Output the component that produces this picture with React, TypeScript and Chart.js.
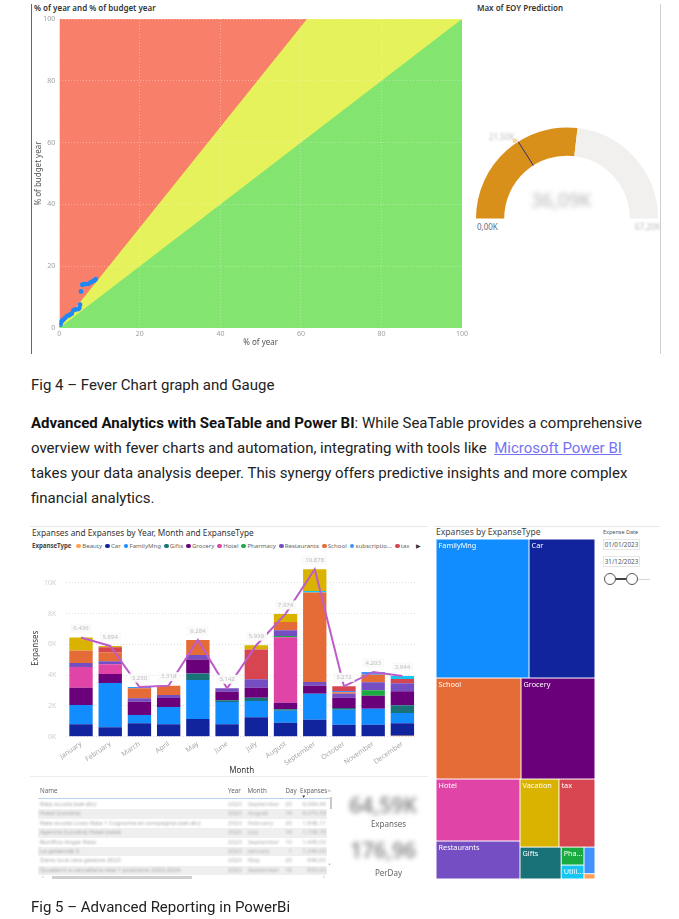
import React, { useEffect, useRef } from "react";
import { Chart, registerables } from "chart.js";

Chart.register(...registerables);

const PBI_FONT = "'Noto Sans', 'Open Sans', sans-serif";
const PAGE_FONT = "Roboto, 'Noto Sans', sans-serif";
Chart.defaults.font.family = PBI_FONT;

// ---------------- Fig 4 : fever chart ----------------
const yearPct = [0.26, 0.42, 0.67, 1.0, 1.42, 1.83, 2.24, 2.66, 3.07, 3.49, 3.9, 4.32, 4.73, 4.98, 5.14, 5.39, 5.72, 6.14, 6.64, 7.21, 7.8, 8.29, 8.7, 9.04];
const budgetPct = [1.07, 1.82, 2.36, 2.68, 3.22, 3.77, 3.98, 4.3, 4.62, 5.7, 5.92, 6.13, 6.13, 6.46, 7.53, 11.85, 14.0, 14.2, 14.2, 14.3, 14.75, 15.1, 15.4, 15.8];
const greenZoneX = [0, 100];
const greenZoneY = [0, 100];
const yellowZoneX = [0, 61.5, 100];
const yellowZoneY = [0, 100, 100];
const redZoneX = [0, 100];
const redZoneY = [100, 100];

// ---------------- gauge (K) ----------------
const gaugeMin = 0;
const gaugeValue = 36.09;
const gaugeMax = 67.2;
const gaugeTarget = 21.5;

// ---------------- Fig 5 : expenses ----------------
const months = ["January", "February", "March", "April", "May", "June", "July", "August", "September", "October", "November", "December"];
const beauty = [0, 0, 0, 0, 0, 0, 0, 0, 0, 0, 0, 65];
const car = [802, 607, 867, 802, 1149, 802, 1257, 910, 1105, 780, 780, 802];
const familyMng = [1257, 2882, 542, 1127, 2535, 1452, 1062, 780, 1690, 975, 1040, 672];
const gifts = [0, 0, 0, 0, 412, 108, 217, 87, 0, 108, 0, 498];
const grocery = [1127, 585, 867, 585, 910, 563, 650, 433, 520, 672, 845, 910];
const hotel = [1343, 628, 0, 0, 0, 0, 0, 4247, 0, 0, 0, 0];
const pharmacy = [0, 0, 0, 0, 0, 0, 0, 87, 0, 0, 347, 0];
const restaurants = [260, 195, 217, 195, 303, 217, 542, 368, 238, 260, 520, 520];
const school = [802, 585, 650, 607, 975, 0, 0, 542, 5808, 87, 498, 0];
const subscriptions = [0, 0, 87, 0, 0, 0, 0, 0, 0, 87, 173, 0];
const tax = [0, 325, 0, 0, 0, 0, 1929, 0, 0, 303, 0, 282];
const utilities = [0, 0, 0, 0, 0, 0, 0, 0, 108, 0, 0, 195];
const vacation = [845, 87, 0, 0, 0, 0, 282, 520, 1409, 0, 0, 0];

const expenseTypes = ["Beauty", "Car", "FamilyMng", "Gifts", "Grocery", "Hotel", "Pharmacy", "Restaurants", "School", "subscriptions", "tax", "Utilities", "Vacation"];
const expenseSeries = [beauty, car, familyMng, gifts, grocery, hotel, pharmacy, restaurants, school, subscriptions, tax, utilities, vacation];
const legendLabels = ["Beauty", "Car", "FamilyMng", "Gifts", "Grocery", "Hotel", "Pharmacy", "Restaurants", "School", "subscriptio...", "tax"];
const yAxisMaxK = 11.5;
const yTicksK = [0, 2, 4, 6, 8, 10];

const treeTypes = ["FamilyMng", "Car", "School", "Grocery", "Hotel", "Restaurants", "Vacation", "tax", "Gifts", "Pharmacy", "Utilities", "subscriptions", "Beauty"];
const treeValues = [15450, 10960, 10260, 8930, 6220, 3810, 3170, 2930, 1570, 490, 380, 350, 70];

const tableYears = ["2023", "2023", "2023", "2023", "2023", "2023", "2023", "2023"];
const tableMonths = ["September", "August", "February", "July", "September", "January", "May", "September"];
const tableDays = ["20", "14", "20", "14", "10", "1", "20", "16"];
const tableExpanses = ["4.094,44", "4.073,59", "1.848,11", "1.738,75", "1.445,03", "1.240,00", "946,05", "933,00"];
const tableNames = ["Rata scuola (set-dic)", "Hotel (Londra)", "Rata scuola Liceo Rata 1 Cognome et compagnia (set-dic)", "Agenzia (Londra) Hotel (rata)", "Bonifico Anger Rata", "La gelaende 2", "Zaino luce cera gestore 2023", "Quaderni e cancelleria rete 1 posizione 2023-2024"];
const cardTotal = "64,59K";
const cardPerDay = "176,96";

const typeColors: Record<string, string> = {
  Beauty: "#FFA058",
  Car: "#12239E",
  FamilyMng: "#118DFF",
  Gifts: "#197278",
  Grocery: "#6B007B",
  Hotel: "#E044A7",
  Pharmacy: "#1AAB40",
  Restaurants: "#744EC2",
  School: "#E66C37",
  subscriptions: "#4092FF",
  tax: "#D64550",
  Utilities: "#15C6F4",
  Vacation: "#D9B300",
};

const monthTotals = months.map((_, i) => expenseSeries.reduce((s, arr) => s + arr[i], 0));

// d3-style squarified layout (golden ratio)
function squarify(values: number[], X0: number, Y0: number, X1: number, Y1: number) {
  const ratio = (1 + Math.sqrt(5)) / 2;
  const rects: { x0: number; y0: number; x1: number; y1: number }[] = [];
  let x0 = X0, y0 = Y0;
  const x1 = X1, y1 = Y1;
  let value = values.reduce((a, b) => a + b, 0);
  const n = values.length;
  let i0 = 0, i1 = 0;
  while (i0 < n) {
    const dx = x1 - x0, dy = y1 - y0;
    let sumValue = values[i1++];
    let minValue = sumValue, maxValue = sumValue;
    const alpha = Math.max(dy / dx, dx / dy) / (value * ratio);
    let beta = sumValue * sumValue * alpha;
    let minRatio = Math.max(maxValue / beta, beta / minValue);
    for (; i1 < n; ++i1) {
      const nv = values[i1];
      sumValue += nv;
      if (nv < minValue) minValue = nv;
      if (nv > maxValue) maxValue = nv;
      beta = sumValue * sumValue * alpha;
      const newRatio = Math.max(maxValue / beta, beta / minValue);
      if (newRatio > minRatio) {
        sumValue -= nv;
        break;
      }
      minRatio = newRatio;
    }
    if (dx < dy) {
      const yEnd = value ? y0 + (dy * sumValue) / value : y1;
      let x = x0;
      for (let k = i0; k < i1; k++) {
        const w = (dx * values[k]) / sumValue;
        rects[k] = { x0: x, y0, x1: x + w, y1: yEnd };
        x += w;
      }
      y0 = yEnd;
    } else {
      const xEnd = value ? x0 + (dx * sumValue) / value : x1;
      let y = y0;
      for (let k = i0; k < i1; k++) {
        const h = (dy * values[k]) / sumValue;
        rects[k] = { x0, y0: y, x1: xEnd, y1: y + h };
        y += h;
      }
      x0 = xEnd;
    }
    value -= sumValue;
    i0 = i1;
  }
  return rects;
}

function ChartCanvas(props: { left: number; top: number; width: number; height: number; config: () => any }) {
  const ref = useRef<HTMLCanvasElement>(null);
  useEffect(() => {
    const chart = new Chart(ref.current as HTMLCanvasElement, props.config());
    return () => chart.destroy();
  }, []);
  return (
    <canvas
      ref={ref}
      width={props.width}
      height={props.height}
      style={{ position: "absolute", left: props.left, top: props.top, width: props.width, height: props.height }}
    />
  );
}

// ---------- configs ----------
const feverConfig = () => ({
  type: "line",
  data: {
    datasets: [
      {
        label: "Progress",
        data: yearPct.map((x, i) => ({ x, y: budgetPct[i] })),
        showLine: false,
        pointRadius: 2.4,
        pointBackgroundColor: "#1E88F5",
        pointBorderWidth: 0,
        order: 0,
      },
      {
        label: "green",
        data: greenZoneX.map((x, i) => ({ x, y: greenZoneY[i] })),
        fill: "origin",
        backgroundColor: "#83E46F",
        borderWidth: 0,
        pointRadius: 0,
        order: 1,
      },
      {
        label: "yellow",
        data: yellowZoneX.map((x, i) => ({ x, y: yellowZoneY[i] })),
        fill: "origin",
        backgroundColor: "#E5F25B",
        borderWidth: 0,
        pointRadius: 0,
        order: 2,
      },
      {
        label: "red",
        data: redZoneX.map((x, i) => ({ x, y: redZoneY[i] })),
        fill: "origin",
        backgroundColor: "#F8806A",
        borderWidth: 0,
        pointRadius: 0,
        order: 3,
      },
    ],
  },
  options: {
    animation: false,
    responsive: false,
    layout: { padding: { top: 19, right: 10, left: 0, bottom: 0 } },
    plugins: { legend: { display: false }, tooltip: { enabled: false } },
    scales: {
      x: {
        type: "linear",
        min: 0,
        max: 100,
        ticks: { stepSize: 20, color: "#a0a0a0", font: { size: 7 }, padding: 2 },
        grid: { color: "rgba(255,255,255,0.35)", z: 1, drawTicks: false },
        border: { display: false, dash: [1, 2] },
        title: { display: true, text: "% of year", color: "#555", font: { size: 8 }, padding: { top: 0, bottom: 7 } },
        afterFit: (s: any) => {
          s.height = 27;
        },
      },
      y: {
        type: "linear",
        min: 0,
        max: 100,
        ticks: { stepSize: 20, color: "#a0a0a0", font: { size: 7 }, padding: 4 },
        grid: { color: "rgba(255,255,255,0.35)", z: 1, drawTicks: false },
        border: { display: false, dash: [1, 2] },
        title: { display: true, text: "% of budget year", color: "#555", font: { size: 8 }, padding: { top: 1.5, bottom: 0 } },
        afterFit: (s: any) => {
          s.width = 27.3;
        },
      },
    },
  },
});

const gaugeTargetPlugin = {
  id: "gaugeTarget",
  afterDatasetsDraw(chart: any) {
    const arc = chart.getDatasetMeta(0).data[0];
    if (!arc) return;
    const { x, y, innerRadius, outerRadius } = arc.getProps(["x", "y", "innerRadius", "outerRadius"], true);
    const frac = (gaugeTarget - gaugeMin) / (gaugeMax - gaugeMin);
    const ang = Math.PI + Math.PI * frac;
    const ctx = chart.ctx;
    ctx.save();
    ctx.strokeStyle = "#2B2F6E";
    ctx.lineWidth = 1;
    ctx.beginPath();
    ctx.moveTo(x + Math.cos(ang) * innerRadius, y + Math.sin(ang) * innerRadius);
    ctx.lineTo(x + Math.cos(ang) * outerRadius, y + Math.sin(ang) * outerRadius);
    ctx.stroke();
    ctx.fillStyle = "#F3D7A6";
    const mx = x + Math.cos(ang) * (outerRadius + 1);
    const my = y + Math.sin(ang) * (outerRadius + 1);
    ctx.fillRect(mx - 5, my - 2, 5, 4);
    ctx.restore();
  },
};

const gaugeConfig = () => ({
  type: "doughnut",
  data: {
    labels: ["Max of EOY Prediction", "Remaining"],
    datasets: [
      {
        data: [gaugeValue - gaugeMin, gaugeMax - gaugeValue],
        backgroundColor: ["#D9901A", "#F1F0EE"],
        borderWidth: 0,
      },
    ],
  },
  options: {
    animation: false,
    responsive: false,
    rotation: -90,
    circumference: 180,
    cutout: "69%",
    layout: { padding: 0 },
    plugins: { legend: { display: false }, tooltip: { enabled: false } },
  },
  plugins: [gaugeTargetPlugin],
});

const totalsLabelPlugin = {
  id: "totalsLabels",
  afterDatasetsDraw(chart: any) {
    const meta = chart.getDatasetMeta(0);
    const ctx = chart.ctx;
    const fmt = new Intl.NumberFormat("de-DE");
    ctx.save();
    ctx.font = `6px ${PBI_FONT}`;
    ctx.textAlign = "center";
    ctx.textBaseline = "middle";
    meta.data.forEach((pt: any, i: number) => {
      const text = fmt.format(Math.round(monthTotals[i]));
      const w = ctx.measureText(text).width + 6;
      const cx = pt.x;
      const cy = pt.y - 9;
      ctx.fillStyle = "rgba(250,250,250,0.95)";
      ctx.fillRect(cx - w / 2, cy - 4.5, w, 9);
      ctx.fillStyle = "#bdbdbd";
      ctx.fillText(text, cx, cy);
    });
    ctx.restore();
  },
};

const barConfig = () => ({
  type: "bar",
  data: {
    labels: months,
    datasets: [
      {
        type: "line",
        label: "Expanses",
        data: monthTotals,
        borderColor: "#BE5DC9",
        borderWidth: 2,
        pointRadius: 0,
        tension: 0,
        stack: "total",
        order: 0,
      },
      ...expenseTypes.map((t, k) => ({
        type: "bar",
        label: t,
        data: expenseSeries[k],
        backgroundColor: typeColors[t],
        borderWidth: 0,
        stack: "types",
        barPercentage: 0.8,
        categoryPercentage: 1,
        order: 1,
      })),
    ],
  },
  options: {
    animation: false,
    responsive: false,
    layout: { padding: { top: 19.6, right: 18, left: 0, bottom: 0 } },
    plugins: { legend: { display: false }, tooltip: { enabled: false } },
    scales: {
      x: {
        stacked: true,
        grid: { display: false, drawTicks: false },
        border: { display: false },
        ticks: { color: "#a8a8a8", font: { size: 7 }, minRotation: 35, maxRotation: 35, autoSkip: false, padding: 3 },
        title: { display: true, text: "Month", color: "#333", font: { size: 8 }, padding: { top: 0, bottom: 4.5 } },
        afterFit: (s: any) => {
          s.height = 43.3;
        },
      },
      y: {
        stacked: true,
        min: 0,
        max: yAxisMaxK * 1000,
        afterBuildTicks: (s: any) => {
          s.ticks = yTicksK.map((v) => ({ value: v * 1000 }));
        },
        ticks: {
          color: "#d0d0d0",
          font: { size: 7 },
          padding: 10,
          callback: (v: number) => `${Math.round(v / 1000)}K`,
        },
        grid: { color: "#dedede", drawTicks: false },
        border: { display: false, dash: [1, 2] },
        title: { display: true, text: "Expanses", color: "#444", font: { size: 8 }, padding: { top: 6.2, bottom: 0 } },
        afterFit: (s: any) => {
          s.width = 41.4;
        },
      },
    },
  },
  plugins: [totalsLabelPlugin],
});

const treemapPlugin = {
  id: "treemapCells",
  afterDatasetsDraw(chart: any) {
    const { ctx, chartArea, scales } = chart;
    const xs = scales.x, ys = scales.y;
    const cw = chartArea.right - chartArea.left;
    const ch = chartArea.bottom - chartArea.top;
    const rects = squarify(treeValues, 0, 0, cw, ch);
    ctx.save();
    rects.forEach((r, k) => {
      const px0 = xs.getPixelForValue(r.x0 / cw);
      const px1 = xs.getPixelForValue(r.x1 / cw);
      const py0 = ys.getPixelForValue(r.y0 / ch);
      const py1 = ys.getPixelForValue(r.y1 / ch);
      const w = px1 - px0, h = py1 - py0;
      ctx.fillStyle = typeColors[treeTypes[k]];
      ctx.fillRect(px0 + 0.5, py0 + 0.5, w - 1, h - 1);
      if (h < 12 || w < 16) return;
      ctx.font = `7.3px ${PBI_FONT}`;
      ctx.fillStyle = "#ffffff";
      ctx.textBaseline = "top";
      ctx.textAlign = "left";
      let label = treeTypes[k];
      const avail = w - 3;
      if (ctx.measureText(label).width > avail) {
        let n = label.length - 1;
        while (n > 1 && ctx.measureText(label.slice(0, n) + "...").width > avail) n--;
        label = label.slice(0, n) + "...";
      }
      ctx.fillText(label, px0 + 2.5, py0 + 3);
    });
    ctx.restore();
  },
};

const treemapConfig = () => ({
  type: "scatter",
  data: { datasets: [{ label: "Expanses by ExpanseType", data: [] }] },
  options: {
    animation: false,
    responsive: false,
    layout: { padding: 0 },
    plugins: { legend: { display: false }, tooltip: { enabled: false } },
    scales: {
      x: { type: "linear", min: 0, max: 1, display: false },
      y: { type: "linear", min: 0, max: 1, reverse: true, display: false },
    },
  },
  plugins: [treemapPlugin],
});

const abs = (left: number, top: number, extra: any = {}) => ({ position: "absolute" as const, left, top, ...extra });

export default function App() {
  const rowH = 9.4;
  const hdr = { fontFamily: PBI_FONT, fontSize: 6.2, color: "#666", lineHeight: "10px", whiteSpace: "nowrap" as const };
  const cell = { fontFamily: PBI_FONT, fontSize: 6, lineHeight: `${rowH}px`, color: "#aaa", filter: "blur(0.9px)", whiteSpace: "nowrap" as const };
  return (
    <div style={{ position: "absolute", left: 0, top: 0, width: 679, height: 919, overflow: "hidden", background: "#fff", fontFamily: PAGE_FONT }}>
      {/* ---------- Fig 4 ---------- */}
      <div style={abs(31, 4, { width: 1, height: 350, background: "#666" })} />
      <div style={abs(660, 4, { width: 1, height: 350, background: "#d0d0d0" })} />
      <div style={abs(34, 2, { fontFamily: PBI_FONT, fontSize: 8, fontWeight: 600, color: "#333", lineHeight: "12px", whiteSpace: "nowrap" })}>
        % of year and % of budget year
      </div>
      <ChartCanvas left={32} top={0} width={440} height={355} config={feverConfig} />

      <div style={abs(477, 2, { fontFamily: PBI_FONT, fontSize: 8, fontWeight: 600, color: "#333", lineHeight: "12px", whiteSpace: "nowrap" })}>
        Max of EOY Prediction
      </div>
      <ChartCanvas left={476} top={127} width={182} height={92} config={gaugeConfig} />
      <div style={abs(477, 221, { fontFamily: PBI_FONT, fontSize: 8, color: "#5E6C84", lineHeight: "12px" })}>0,00K</div>
      <div style={abs(531, 188, { fontFamily: PBI_FONT, fontSize: 19, color: "#b4b4b4", lineHeight: "24px", filter: "blur(2.5px)", whiteSpace: "nowrap" })}>
        {gaugeValue.toFixed(2).replace(".", ",")}K
      </div>
      <div style={abs(489, 131, { fontFamily: PBI_FONT, fontSize: 8, color: "#c0c0c0", lineHeight: "12px", filter: "blur(1.3px)" })}>
        {gaugeTarget.toFixed(2).replace(".", ",")}K
      </div>
      <div style={abs(635, 221, { fontFamily: PBI_FONT, fontSize: 8, color: "#bdbdbd", lineHeight: "12px", filter: "blur(1.3px)", whiteSpace: "nowrap" })}>
        {gaugeMax.toFixed(2).replace(".", ",")}K
      </div>

      <div style={abs(31, 376, { fontSize: 15, color: "#222", lineHeight: "18px", whiteSpace: "nowrap" })}>Fig 4 – Fever Chart graph and Gauge</div>

      <div style={abs(31, 411, { fontSize: 15, color: "#222", lineHeight: "25px", whiteSpace: "nowrap" })}>
        <div>
          <span style={{ fontWeight: 700, color: "#111" }}>Advanced Analytics with SeaTable and Power BI</span>: While SeaTable provides a comprehensive
        </div>
        <div>
          overview with fever charts and automation, integrating with tools like{"\u00a0 "}
          <span style={{ color: "#7474F2", textDecoration: "underline" }}>Microsoft Power BI</span>
        </div>
        <div>takes your data analysis deeper. This synergy offers predictive insights and more complex</div>
        <div>financial analytics.</div>
      </div>

      {/* ---------- Fig 5 ---------- */}
      <div style={abs(30, 526, { width: 398, height: 1, background: "#e8e8e8" })} />
      <div style={abs(434, 526, { width: 226, height: 1, background: "#e8e8e8" })} />
      <div style={abs(32, 527, { fontFamily: PBI_FONT, fontSize: 8.3, color: "#333", lineHeight: "11px", whiteSpace: "nowrap" })}>
        Expanses and Expanses by Year, Month and ExpanseType
      </div>
      <div style={abs(32, 541, { display: "flex", alignItems: "center", gap: 2.8, fontFamily: PBI_FONT, fontSize: 6.1, color: "#666", lineHeight: "10px", whiteSpace: "nowrap" })}>
        <span style={{ fontWeight: 700, color: "#444", marginRight: 2 }}>ExpanseType</span>
        {legendLabels.map((l, i) => (
          <span key={l} style={{ display: "flex", alignItems: "center" }}>
            <span style={{ width: 4.8, height: 4.8, borderRadius: 3, background: typeColors[expenseTypes[i]], marginRight: 1.2, display: "inline-block" }} />
            {l}
          </span>
        ))}
        <span style={{ color: "#333", fontSize: 5.5, marginLeft: 4 }}>▶</span>
      </div>
      <ChartCanvas left={25} top={540} width={410} height={240} config={barConfig} />
      <div style={abs(30, 776, { width: 398, height: 1, background: "#ececec" })} />

      {/* table */}
      <div style={abs(40, 786, hdr)}>Name</div>
      <div style={abs(228, 786, hdr)}>Year</div>
      <div style={abs(247.5, 786, hdr)}>Month</div>
      <div style={abs(285.5, 786, hdr)}>Day</div>
      <div style={abs(300, 786, hdr)}>Expanses</div>
      <div style={abs(301.5, 793.5, { fontSize: 4.5, color: "#333", lineHeight: "5px" })}>▼</div>
      <div style={abs(327.5, 786, { fontFamily: PBI_FONT, fontSize: 6, color: "#888", lineHeight: "10px" })}>^</div>
      <div style={abs(38, 797.5, { width: 293, height: 1.5, background: "#B6D4F2" })} />
      {tableNames.map((name, i) => (
        <div key={i} style={abs(38, 800 + i * rowH, { width: 289, height: rowH, background: i % 2 === 1 ? "#efefef" : "transparent", overflow: "hidden" })}>
          <div style={abs(2, 0, { ...cell, color: "#a0a0a0" })}>{name}</div>
          <div style={abs(190, 0, cell)}>{tableYears[i]}</div>
          <div style={abs(210, 0, cell)}>{tableMonths[i]}</div>
          <div style={abs(244, 0, { ...cell, width: 10, textAlign: "right" })}>{tableDays[i]}</div>
          <div style={abs(256, 0, { ...cell, width: 32, textAlign: "right" })}>{tableExpanses[i]}</div>
        </div>
      ))}
      <div style={abs(330, 797, { width: 2, height: 12, background: "#c8c8c8" })} />
      <div style={abs(327, 860, { fontSize: 6, color: "#999", lineHeight: "6px" })}>⌄</div>
      <div style={abs(52, 875.5, { width: 140, height: 3, background: "#cfcfcf" })} />
      <div style={abs(42, 872, { fontSize: 6, color: "#999", lineHeight: "8px" })}>‹</div>
      <div style={abs(323, 872, { fontSize: 6, color: "#999", lineHeight: "8px" })}>›</div>

      {/* cards */}
      <div style={abs(340, 792, { width: 86, textAlign: "center", fontFamily: PBI_FONT, fontSize: 21, fontWeight: 600, color: "#8a8a8a", lineHeight: "26px", filter: "blur(2.4px)" })}>{cardTotal}</div>
      <div style={abs(340, 818, { width: 97, textAlign: "center", fontFamily: PBI_FONT, fontSize: 8, color: "#666", lineHeight: "11px" })}>Expanses</div>
      <div style={abs(340, 837, { width: 86, textAlign: "center", fontFamily: PBI_FONT, fontSize: 21, fontWeight: 600, color: "#8a8a8a", lineHeight: "26px", filter: "blur(2.4px)" })}>{cardPerDay}</div>
      <div style={abs(340, 867, { width: 97, textAlign: "center", fontFamily: PBI_FONT, fontSize: 8, color: "#666", lineHeight: "11px" })}>PerDay</div>

      {/* treemap */}
      <div style={abs(436, 527, { fontFamily: PBI_FONT, fontSize: 8.6, color: "#444", lineHeight: "11px", whiteSpace: "nowrap" })}>Expanses by ExpanseType</div>
      <ChartCanvas left={436} top={539} width={159} height={340} config={treemapConfig} />

      {/* slicer */}
      <div style={abs(603, 528, { fontFamily: PBI_FONT, fontSize: 5.5, color: "#555", lineHeight: "8px", whiteSpace: "nowrap" })}>Expense Date</div>
      <div style={abs(603, 539, { width: 37, height: 11, border: "1px solid #e6e6e6", boxSizing: "border-box", fontFamily: PBI_FONT, fontSize: 6.3, color: "#555", lineHeight: "10px", textAlign: "center" })}>01/01/2023</div>
      <div style={abs(603, 556, { width: 37, height: 11, border: "1px solid #e6e6e6", boxSizing: "border-box", fontFamily: PBI_FONT, fontSize: 6.3, color: "#555", lineHeight: "10px", textAlign: "center" })}>31/12/2023</div>
      <div style={abs(615, 578.3, { width: 12, height: 1.5, background: "#444" })} />
      <div style={abs(638, 578.5, { width: 12, height: 1, background: "#d5d5d5" })} />
      <div style={abs(604.3, 573, { width: 12, height: 12, borderRadius: 6, border: "1.5px solid #555", background: "#fff", boxSizing: "border-box" })} />
      <div style={abs(626, 573, { width: 12, height: 12, borderRadius: 6, border: "1.5px solid #555", background: "#fff", boxSizing: "border-box" })} />

      <div style={abs(31, 898, { fontSize: 15, color: "#222", lineHeight: "18px", whiteSpace: "nowrap" })}>Fig 5 – Advanced Reporting in PowerBi</div>
    </div>
  );
}
